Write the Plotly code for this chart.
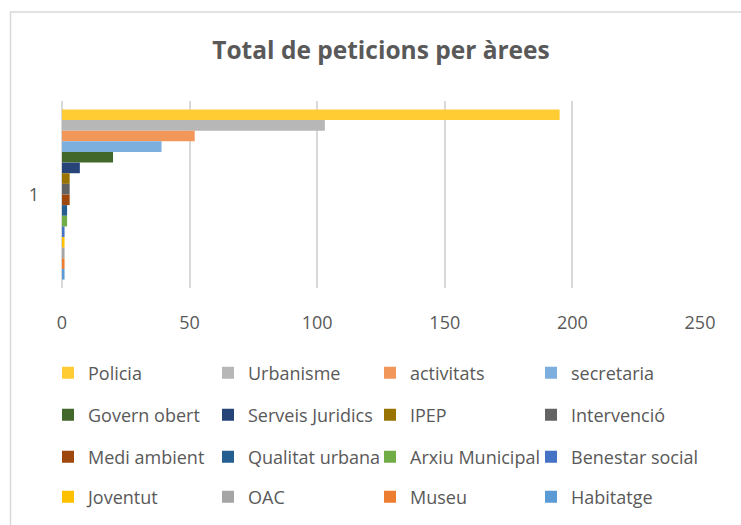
import plotly.graph_objects as go

categories = ["1"]
areas = ["Policia", "Urbanisme", "activitats", "secretaria",
         "Govern obert", "Serveis Juridics", "IPEP", "Intervenció",
         "Medi ambient", "Qualitat urbana", "Arxiu Municipal", "Benestar social",
         "Joventut", "OAC", "Museu", "Habitatge"]
counts = [195, 103, 52, 39, 20, 7, 3, 3, 3, 2, 2, 1, 1, 1, 1, 1]
x_ticks = [0, 50, 100, 150, 200, 250]

colors = ["#FFCD33", "#B7B7B7", "#F1975A", "#7CAFDD",
          "#43682B", "#264478", "#997300", "#636363",
          "#9E480E", "#255E91", "#70AD47", "#4472C4",
          "#FFC000", "#A5A5A5", "#ED7D31", "#5B9BD5"]

TXT = "#595959"
FONT = "Open Sans"

# plot area in pixels
L, R, T, B = 62, 700, 101, 289
W, H = 741, 525

def px_x(p):
    return (p - L) / (R - L)

def px_y(p):
    return (B - p) / (B - T)

# legend grid (pixel positions of each entry)
col_lefts = [48, 208, 370, 531]
row_centers = [373, 415, 457, 497]

fig = go.Figure()
layout_legends = {}
for i, (name, val) in enumerate(zip(areas, counts)):
    ln = "legend" if i == 0 else f"legend{i + 1}"
    fig.add_trace(go.Bar(
        y=categories, x=[val], name=name, orientation="h",
        marker=dict(color=colors[i], line=dict(width=0)),
        legend=ln,
        hoverinfo="skip",
    ))
    layout_legends[ln] = dict(
        orientation="h", xanchor="left", yanchor="middle",
        x=px_x(col_lefts[i % 4]), y=px_y(row_centers[i // 4]),
        font=dict(family=FONT, size=18, color=TXT),
        bgcolor="rgba(0,0,0,0)", borderwidth=0,
        itemclick=False, itemdoubleclick=False,
    )

fig.update_layout(
    width=W, height=H,
    margin=dict(l=L, r=W - R, t=T, b=H - B, pad=0),
    paper_bgcolor="white", plot_bgcolor="white",
    barmode="group", bargap=0.09, bargroupgap=0,
    title=dict(text="<b>Total de peticions per àrees</b>",
               x=0.5, xanchor="center", xref="paper",
               y=1 - 50 / H, yanchor="middle",
               font=dict(family=FONT, size=24.5, color=TXT)),
    xaxis=dict(range=[0, 250], tickvals=x_ticks, ticktext=[str(v) for v in x_ticks],
               showgrid=True, gridcolor="#D9D9D9", gridwidth=1.5,
               zeroline=True, zerolinecolor="#D9D9D9", zerolinewidth=1.5,
               showline=False, ticks="", ticklabelstandoff=22,
               tickfont=dict(family=FONT, size=18, color=TXT), fixedrange=True),
    yaxis=dict(type="category", autorange="reversed", showgrid=False,
               zeroline=False, showline=False, ticks="", ticklabelstandoff=22,
               tickfont=dict(family=FONT, size=18, color=TXT), fixedrange=True),
    showlegend=True,
    shapes=[dict(type="rect", xref="paper", yref="paper",
                 x0=px_x(10.5), x1=px_x(760), y0=px_y(11.5), y1=px_y(560),
                 line=dict(color="#D9D9D9", width=1.5), fillcolor="rgba(0,0,0,0)",
                 layer="below")],
    **layout_legends,
)

fig.write_html("out.html", config={"displayModeBar": False},
               post_script="document.body.style.margin='0';")
